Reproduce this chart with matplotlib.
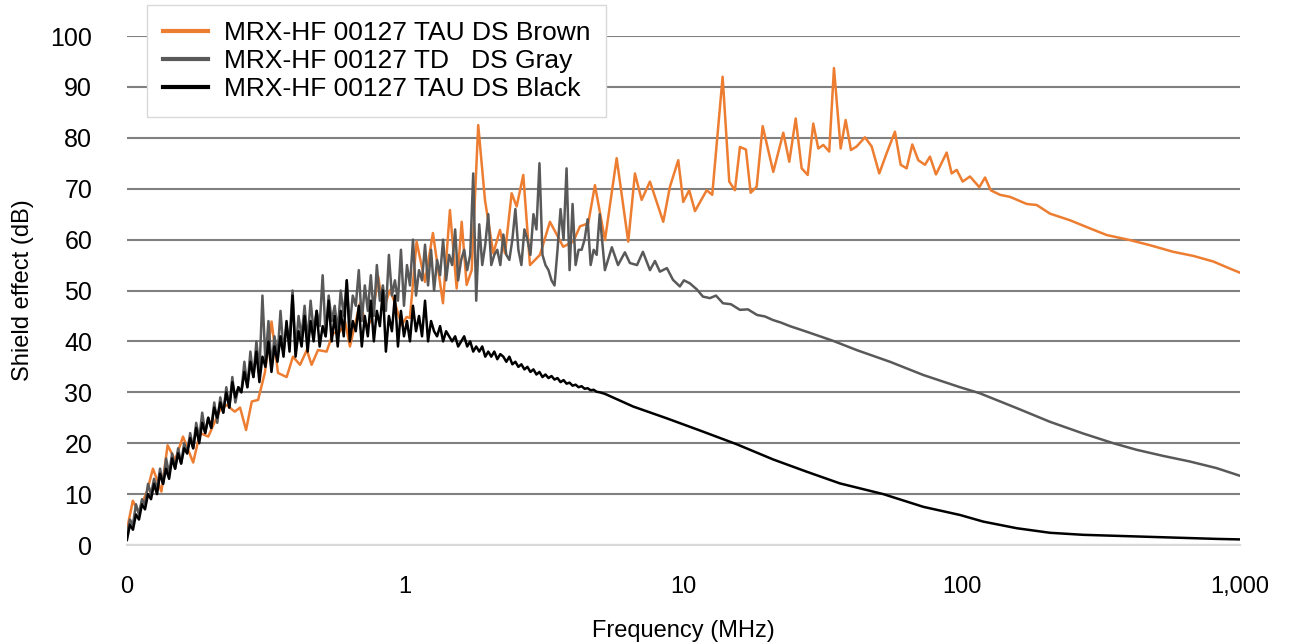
import matplotlib.pyplot as plt
import numpy as np

# measurement grid of the dense low-frequency sweep (MHz)
freq_dense = np.geomspace(0.1, 5.0, 158)

gray_dense = [2, 5, 4, 8, 6, 9, 8, 12, 10, 13,
              11, 15, 12, 17, 14, 18, 15, 19, 16, 20,
              18, 22, 19, 24, 21, 26, 22, 25, 23, 28,
              24, 29, 26, 31, 27, 33, 28, 31, 30, 36,
              31, 38, 33, 40, 34, 49, 36, 44, 35, 41,
              37, 46, 38, 43, 40, 50, 38, 45, 41, 47,
              40, 48, 42, 46, 43, 53, 41, 49, 44, 47,
              42, 50, 45, 52, 43, 49, 47, 54, 44, 51,
              46, 53, 45, 55, 48, 51, 46, 57, 49, 52,
              48, 58, 47, 55, 51, 60, 49, 54, 52, 59,
              51, 58, 50, 56, 53, 60, 52, 57, 55, 62,
              52, 56, 58, 54, 57, 73, 48, 63, 55, 59,
              65, 55, 57, 58, 55, 61, 57, 56, 60, 66,
              58, 55, 62, 60, 57, 65, 62, 75, 57, 55,
              54, 52, 51, 58, 66, 60, 74, 54, 67, 55,
              58, 58, 60, 64, 55, 58, 57, 65]

black_dense = [1, 4, 3, 6, 5, 8, 7, 10, 9, 12,
               10, 14, 12, 15, 13, 17, 15, 18, 16, 19,
               18, 21, 19, 23, 20, 24, 22, 25, 23, 27,
               25, 28, 26, 30, 27, 32, 29, 31, 30, 34,
               31, 36, 33, 38, 32, 37, 35, 40, 34, 39,
               36, 41, 37, 44, 38, 49, 37, 42, 39, 45,
               38, 44, 40, 46, 39, 43, 41, 48, 40, 45,
               39, 46, 41, 52, 40, 44, 42, 47, 39, 45,
               41, 48, 40, 46, 43, 50, 38, 45, 42, 49,
               39, 46, 41, 44, 40, 47, 42, 45, 41, 48,
               40, 44, 42, 41, 43, 40, 42, 41, 40, 41,
               39, 40, 41, 39, 40, 38, 39, 38, 39, 37,
               38, 37, 38, 36.5, 37.5, 37, 36, 37, 35.5, 36,
               35, 35.5, 34.5, 35, 34, 34.5, 33.5, 34, 33, 33.5,
               32.8, 33.2, 32.5, 32.8, 32, 32.4, 31.7, 31.9, 31.3, 31.5,
               31, 31.2, 30.7, 30.8, 30.4, 30.5, 30.1, 30]

gray_tail_freq = [5.22, 5.53, 5.82, 6.16, 6.42, 6.81, 7.15, 7.58, 7.90, 8.23,
                  8.72, 9.17, 9.71, 10.04, 10.55, 11.18, 11.75, 12.45, 13.09, 13.87,
                  14.82, 15.96, 17.05, 18.38, 19.63, 20.97, 22.41, 24.14, 27.73, 34.55,
                  41.92, 55.23, 72.78, 98.6, 116.3, 157.6, 207.7, 273.5, 350.6, 425.6,
                  530.3, 661.4, 825.0, 1000]
gray_tail = [54, 58.5, 55, 57.5, 55.4, 55, 57.6, 54, 55.8, 53.7,
             54.4, 52.1, 50.8, 52.0, 51.4, 50.2, 48.8, 48.5, 49.0, 47.5,
             47.3, 46.2, 46.3, 45.2, 44.9, 44.2, 43.7, 43.0, 41.9, 40.1,
             38.3, 36.0, 33.4, 31.0, 29.8, 26.9, 24.2, 21.9, 20.0, 18.7,
             17.5, 16.4, 15.1, 13.6]

black_tail_freq = [5.22, 6.60, 8.70, 11.46, 15.53, 21.03, 27.73, 36.52, 52.25, 72.78,
                   98.6, 119.5, 157.6, 207.7, 273.5, 360.7, 474.9, 625.6, 825.0, 1000]
black_tail = [29.7, 27.2, 24.9, 22.5, 19.8, 16.8, 14.4, 12.1, 10.0, 7.5,
              5.9, 4.6, 3.3, 2.4, 2.0, 1.8, 1.6, 1.4, 1.2, 1.1]

brown_freq = [0.100, 0.105, 0.110, 0.118, 0.124, 0.133, 0.140, 0.149, 0.159, 0.173,
              0.183, 0.196, 0.216, 0.228, 0.244, 0.255, 0.268, 0.281, 0.296, 0.313,
              0.331, 0.349, 0.375, 0.395, 0.419, 0.443, 0.461, 0.486, 0.522, 0.550,
              0.583, 0.608, 0.633, 0.688, 0.727, 0.758, 0.800, 0.834, 0.882, 0.919,
              0.971, 1.012, 1.040, 1.099, 1.178, 1.258, 1.367, 1.448, 1.531, 1.596,
              1.663, 1.734, 1.830, 1.935, 2.073, 2.191, 2.284, 2.413, 2.515, 2.657,
              2.808, 3.050, 3.313, 3.698, 4.018, 4.246, 4.548, 4.808, 5.224, 5.754,
              6.333, 6.694, 7.076, 7.579, 8.461, 8.944, 9.580, 9.984, 10.49, 11.00,
              12.12, 12.69, 13.83, 14.61, 15.31, 15.96, 16.77, 17.44, 18.33, 19.26,
              21.03, 22.85, 24.01, 25.32, 26.60, 27.96, 29.28, 30.52, 31.81, 33.42,
              34.75, 36.73, 38.28, 39.99, 41.92, 44.91, 47.47, 50.55, 53.76, 57.56,
              60.35, 63.42, 66.44, 69.82, 73.79, 76.91, 80.82, 88.31, 92.05, 95.94,
              100.8, 107.1, 115.7, 121.3, 127.1, 137.3, 149.1, 171.3, 186.0, 207.7,
              245.1, 289.1, 331.9, 402.5, 474.9, 575.9, 679.6, 802.0, 920.8, 1000]
brown = [3, 8.7, 6.5, 10.5, 15, 10.5, 19.6, 16.7, 21.3, 16.2,
         22, 21.3, 26.5, 27.5, 26.2, 27, 22.6, 28.2, 28.5, 33.8,
         43.9, 33.8, 33, 37, 35.4, 38.3, 35.4, 38.3, 38, 41.6,
         41.9, 43.9, 39, 47.5, 42.9, 44.2, 52.7, 46.2, 50.1, 47.5,
         43.2, 44.8, 44.6, 59.6, 51.7, 61.3, 47.5, 65.8, 50.4, 63.5,
         51.1, 54, 82.5, 67.8, 57.3, 61.9, 57.3, 69.1, 66.5, 72.7,
         55, 57, 63.5, 58.6, 59.6, 62.6, 63.2, 70.7, 59.9, 76,
         59.6, 73, 67.8, 71.4, 63.5, 70.4, 75.6, 67.4, 69.7, 65.6,
         69.7, 68.8, 92, 71.4, 69.7, 78.2, 77.7, 69.2, 70.4, 82.3,
         73.3, 81, 75.3, 83.8, 74, 72.7, 82.8, 77.9, 78.6, 77.3,
         93.7, 77.9, 83.5, 77.6, 78.3, 80.1, 78.3, 73, 77, 81.2,
         74.7, 74, 78.7, 75.6, 74.7, 76.3, 72.8, 77.1, 73, 73.7,
         71.4, 72.4, 70.3, 72.2, 69.7, 68.8, 68.4, 67, 66.8, 65.1,
         63.8, 62.2, 60.9, 59.9, 58.9, 57.6, 56.8, 55.7, 54.3, 53.5]

labels = ['MRX-HF 00127 TAU DS Brown', 'MRX-HF 00127 TD   DS Gray', 'MRX-HF 00127 TAU DS Black']
x_ticks = [0.1, 1, 10, 100, 1000]
x_tick_labels = ['0', '1', '10', '100', '1,000']

gray_freq = np.concatenate([freq_dense, gray_tail_freq])
gray = np.concatenate([gray_dense, gray_tail])
black_freq = np.concatenate([freq_dense, black_tail_freq])
black = np.concatenate([black_dense, black_tail])

fonts = ['Liberation Sans', 'DejaVu Sans']

fig = plt.figure(figsize=(12.9, 6.43), dpi=100)
ax = fig.add_axes([0.0984, 0.1524, 0.8628, 0.7916])

ax.plot(brown_freq, brown, color='#ED7D31', lw=1.8, label=labels[0], zorder=3)
ax.plot(gray_freq, gray, color='#595959', lw=1.8, label=labels[1], zorder=4)
ax.plot(black_freq, black, color='#000000', lw=1.8, label=labels[2], zorder=5)

ax.set_xscale('log')
ax.set_xlim(0.1, 1000)
ax.set_ylim(0, 100)
ax.set_xticks(x_ticks)
ax.set_xticklabels(x_tick_labels, fontsize=17, family=fonts)
ax.xaxis.set_minor_locator(plt.NullLocator())
ax.set_yticks(np.arange(0, 101, 10))
ax.tick_params(axis='y', length=0, pad=25, labelsize=18)
ax.tick_params(axis='x', length=0, pad=22)
for lab in ax.get_yticklabels():
    lab.set_fontfamily(fonts)

ax.grid(axis='y', color='#808080', lw=1.5)
ax.set_axisbelow(True)
for side in ['top', 'right', 'left']:
    ax.spines[side].set_visible(False)
ax.spines['bottom'].set_color('#d9d9d9')
ax.spines['bottom'].set_linewidth(1.5)

ax.set_xlabel('Frequency (MHz)', fontsize=17, family=fonts, labelpad=16)
ax.set_ylabel('Shield effect (dB)', fontsize=17, family=fonts, labelpad=12)

leg = ax.legend(loc='upper left', bbox_to_anchor=(0.114, 0.992), bbox_transform=fig.transFigure,
                borderaxespad=0, fancybox=False, edgecolor='#d9d9d9', framealpha=1,
                prop={'family': fonts, 'size': 19},
                handlelength=1.7, handletextpad=0.6, labelspacing=0.16, borderpad=0.6)
for line in leg.get_lines():
    line.set_linewidth(3)

fig.savefig('out.png', dpi=100)
